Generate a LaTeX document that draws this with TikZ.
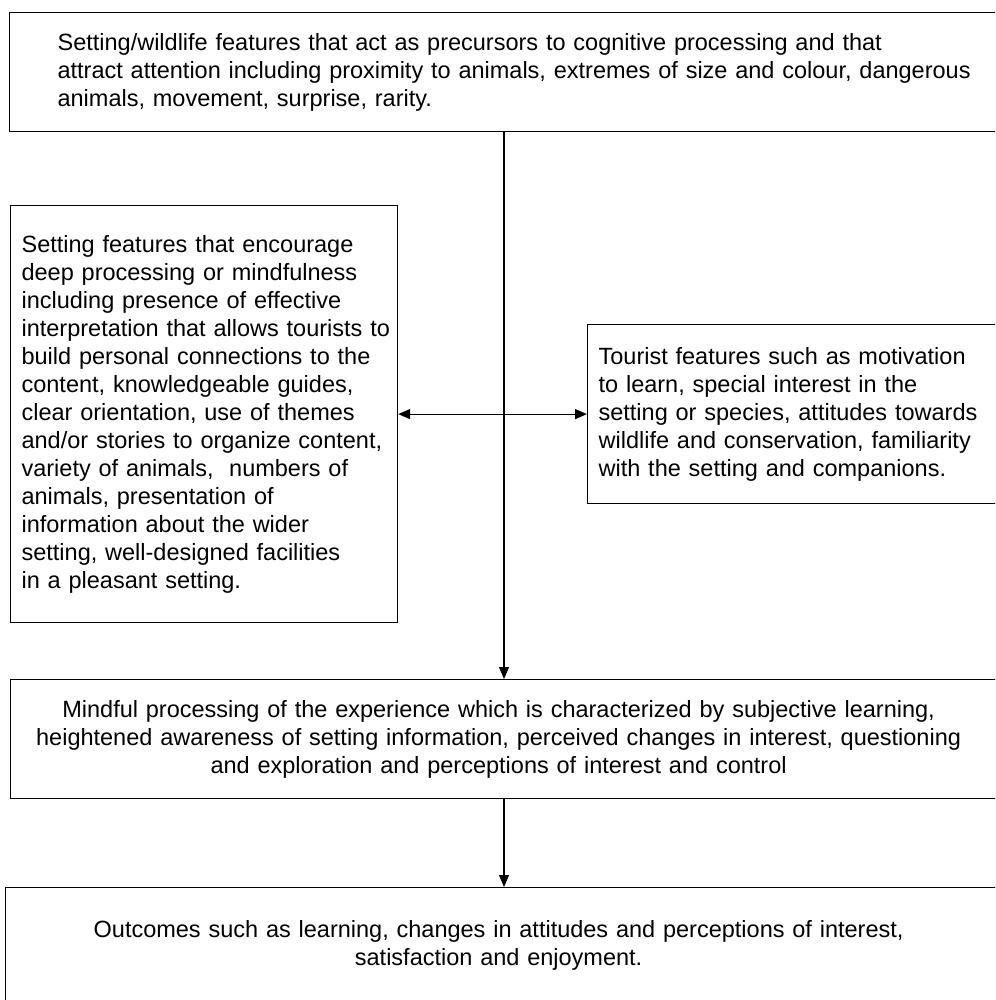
\documentclass[tikz,border=0pt]{standalone}
\usepackage{fontspec}
\setmainfont{Liberation Sans}
\usetikzlibrary{arrows.meta}
\begin{document}
\begin{tikzpicture}[x=1pt,y=-1pt,
  box/.style={draw, line width=1.2pt, anchor=north west, inner ysep=0pt,
    font=\fontsize{23.5}{28}\selectfont},
  lbox/.style={box, align=left},
  link/.style={line width=1.2pt, -{Triangle[length=12pt,width=10pt]}},
  twoway/.style={line width=1.2pt, {Triangle[length=12pt,width=10pt]}-{Triangle[length=12pt,width=10pt]}}]
\useasboundingbox (0,0) rectangle (995,1000);
\clip (0,0) rectangle (995,1000);

% attention-grabbing features
\node[lbox, inner xsep=48pt, text width=1000pt, minimum height=119pt] (attn) at (9,12)
  {Setting/wildlife features that act as precursors to cognitive processing and that\\
   attract attention including proximity to animals, extremes of size and colour, dangerous\\
   animals, movement, surprise, rarity.};

% setting features
\node[lbox, inner xsep=11pt, text width=365pt, minimum height=417pt] (setting) at (10,205)
  {Setting features that encourage\\
   deep processing or mindfulness\\
   including presence of effective\\
   \mbox{interpretation that allows tourists to}\\
   build personal connections to the\\
   content, knowledgeable guides,\\
   clear orientation, use of themes\\
   \mbox{and/or stories to organize content,}\\
   variety of animals,\ \ numbers of\\
   animals, presentation of\\
   information about the wider\\
   setting, well-designed facilities\\
   in a pleasant setting.};

% tourist features
\node[lbox, inner xsep=11pt, text width=600pt, minimum height=179pt] (tourist) at (587,324)
  {Tourist features such as motivation\\
   to learn, special interest in the\\
   setting or species, attitudes towards\\
   wildlife and conservation, familiarity\\
   with the setting and companions.};

% mindful processing
\node[lbox, inner xsep=0pt, text width=1100pt, minimum height=119pt] (mind) at (10,679)
  {\parbox{976pt}{\centering
   Mindful processing of the experience which is characterized by subjective learning,\\
   heightened awareness of setting information, perceived changes in interest, questioning\\
   and exploration and perceptions of interest and control}};

% outcomes
\node[lbox, inner xsep=0pt, text width=1100pt, minimum height=116pt] (outcome) at (5,887)
  {\parbox{986pt}{\centering
   Outcomes such as learning, changes in attitudes and perceptions of interest,\\
   satisfaction and enjoyment.}};

% connectors
\coordinate (spine) at (504,0);
\draw[link] (attn.south -| spine) -- (mind.north -| spine);
\draw[twoway] (setting.east |- tourist.west) -- (tourist.west);
\draw[link] (mind.south -| spine) -- (outcome.north -| spine);
\end{tikzpicture}
\end{document}
